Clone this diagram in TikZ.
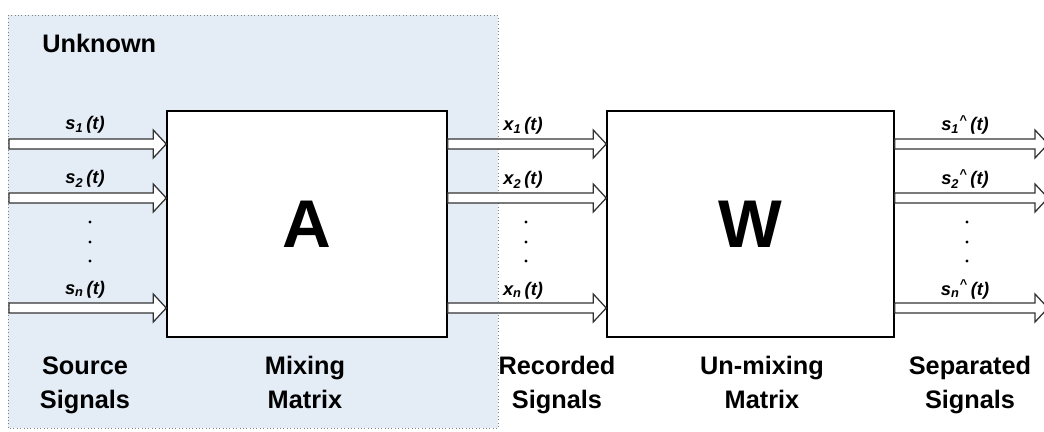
\documentclass[tikz,border=0pt]{standalone}
\usepackage{fontspec}
\setmainfont{Liberation Sans}
\usetikzlibrary{calc}
\definecolor{unknownblue}{RGB}{228,236,246}
% hollow signal arrow from #1 to the tip #2
\newcommand{\sigarrow}[2]{%
  \draw[fill=white, line width=0.9pt, draw=black!80]
    ($(#1)+(0,5)$) -- ($(#2)+(-13,5)$) -- ($(#2)+(-13,14)$) -- (#2)
    -- ($(#2)+(-13,-14)$) -- ($(#2)+(-13,-5)$) -- ($(#1)+(0,-5)$) -- cycle;}
\tikzset{
  block/.style={draw, line width=1pt, fill=white, minimum width=7cm,
    minimum height=5.65cm, font=\bfseries\fontsize{48}{48}\selectfont},
  siglabel/.style={anchor=base, inner sep=0pt,
    font=\bfseries\itshape\fontsize{13}{15}\selectfont},
  caption/.style={anchor=base, align=center, inner sep=0pt,
    font=\bfseries\fontsize{18}{23.5}\selectfont},
}
\begin{document}
\begin{tikzpicture}[x=0.025cm, y=-0.025cm]
\useasboundingbox (0,0) rectangle (1044,432);
% unknown part
\draw[dotted, gray, fill=unknownblue] (8,15) rectangle (498,428);
\node[anchor=base west, inner sep=0pt, font=\bfseries\fontsize{18}{20}\selectfont] (unknown) at (42,53) {Unknown};
% blocks
\node[block] (A) at (307,224) {A};
\node[block, minimum width=7.175cm] (W) at (750.5,224) {W};
% signals
\foreach \row/\y in {1/144, 2/198, n/308}{
  \coordinate (src\row) at (9,\y);
  \coordinate (mix\row) at (A.west |- src\row);
  \coordinate (rec\row) at (A.east |- src\row);
  \coordinate (unmix\row) at (W.west |- src\row);
  \coordinate (sep\row) at (W.east |- src\row);
  \coordinate (out\row) at (1048,\y);
  \sigarrow{src\row}{mix\row}
  \sigarrow{rec\row}{unmix\row}
  \sigarrow{sep\row}{out\row}
  \node[siglabel] (s\row) at (85,{\y-14}) {s\textsubscript{\row}\,(t)};
  \node[siglabel] (x\row) at (523,{\y-13}) {x\textsubscript{\row}\,(t)};
  \node[siglabel] (y\row) at (965,{\y-13}) {s\textsubscript{\row}\textsuperscript{\textasciicircum}\,(t)};
}
\foreach \x in {90,526,967}
  \foreach \y in {222,242,261}
    \fill (\x,\y) circle (1.1pt);
% captions (base = last line)
\node[caption] (source) at (85,408) {Source\\Signals};
\node[caption] (mixing) at (305,408) {Mixing\\Matrix};
\node[caption] (recorded) at (557,408) {Recorded\\Signals};
\node[caption] (unmixing) at (762,408) {Un-mixing\\Matrix};
\node[caption] (separated) at (970,408) {Separated\\Signals};
\end{tikzpicture}
\end{document}
